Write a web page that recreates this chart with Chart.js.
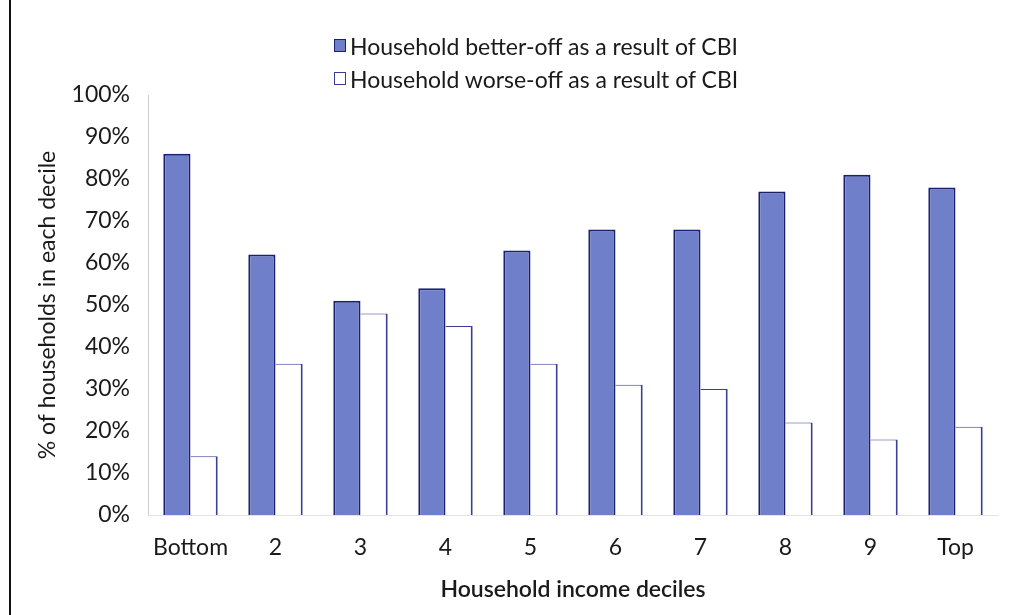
<!DOCTYPE html>
<html>
<head>
<meta charset="utf-8">
<script src="https://cdn.jsdelivr.net/npm/chart.js@4.4.1/dist/chart.umd.min.js"></script>
<style>
  html, body { margin: 0; padding: 0; background: #fff; }
  #wrap { position: relative; width: 1024px; height: 615px; overflow: hidden; }
  #edge { position: absolute; left: 9px; top: 0; width: 2px; height: 615px; background: #111; }
  #legend { position: absolute; left: 334px; top: 29px; font-family: Lato, sans-serif; font-size: 23px; color: #1a1a1a; }
  #legend .row { display: flex; align-items: center; height: 33px; }
  #legend .box { width: 12px; height: 13px; margin-right: 4px; box-sizing: border-box; }
</style>
</head>
<body>
<div id="wrap">
  <canvas id="chart" width="1024" height="615"></canvas>
  <div id="edge"></div>
  <div id="legend"></div>
</div>
<script>
const deciles = ['Bottom', '2', '3', '4', '5', '6', '7', '8', '9', 'Top'];
const betterOff = [86, 62, 51, 54, 63, 68, 68, 77, 81, 78];
const worseOff = [14, 36, 48, 45, 36, 31, 30, 22, 18, 21];
const seriesNames = ['Household better-off as a result of CBI', 'Household worse-off as a result of CBI'];
const yTicks = [0, 10, 20, 30, 40, 50, 60, 70, 80, 90, 100];

const textColor = '#1a1a1a';

const chart = new Chart(document.getElementById('chart'), {
  type: 'bar',
  data: {
    labels: deciles,
    datasets: [
      {
        label: seriesNames[0],
        data: betterOff,
        backgroundColor: '#6f7fc9',
        borderColor: '#1c2070',
        borderWidth: { left: 2, right: 2, top: 2, bottom: 0 },
        borderSkipped: 'bottom',
      },
      {
        label: seriesNames[1],
        data: worseOff,
        backgroundColor: '#ffffff',
        borderColor: '#3a3f95',
        borderWidth: { left: 0, right: 2, top: 1, bottom: 0 },
        borderSkipped: 'bottom',
      },
    ],
  },
  options: {
    responsive: false,
    animation: false,
    layout: { padding: { left: 30, right: 26, top: 95, bottom: 8 } },
    categoryPercentage: 0.64,
    barPercentage: 1.0,
    plugins: {
      legend: { display: false },
      tooltip: { enabled: false },
    },
    scales: {
      x: {
        grid: { display: false, drawTicks: false },
        border: { display: true, color: '#e4e4e4' },
        ticks: {
          color: textColor,
          font: { family: 'Lato', size: 23 },
          padding: 19,
        },
        title: {
          display: true,
          text: 'Household income deciles',
          color: textColor,
          font: { family: 'Lato', size: 23, weight: '600' },
          padding: { top: 6 },
        },
        afterFit: (s) => { s.height = 92; },
      },
      y: {
        min: 0,
        max: 100,
        afterBuildTicks: (s) => { s.ticks = yTicks.map(v => ({ value: v })); },
        grid: { display: false, drawTicks: false },
        border: { display: true, color: '#cfcfcf' },
        ticks: {
          color: textColor,
          font: { family: 'Lato', size: 23 },
          padding: 18,
          callback: (v) => v + '%',
        },
        title: {
          display: true,
          text: '% of households in each decile',
          color: textColor,
          font: { family: 'Lato', size: 23 },
        },
        afterFit: (s) => { s.width = 118; },
      },
    },
  },
});

// html legend, stacked like the original
const legendEl = document.getElementById('legend');
chart.data.datasets.forEach((ds) => {
  const row = document.createElement('div');
  row.className = 'row';
  const box = document.createElement('span');
  box.className = 'box';
  box.style.background = ds.backgroundColor;
  box.style.border = '1px solid ' + ds.borderColor;
  const txt = document.createElement('span');
  txt.textContent = ds.label;
  row.appendChild(box);
  row.appendChild(txt);
  legendEl.appendChild(row);
});
</script>
</body>
</html>
